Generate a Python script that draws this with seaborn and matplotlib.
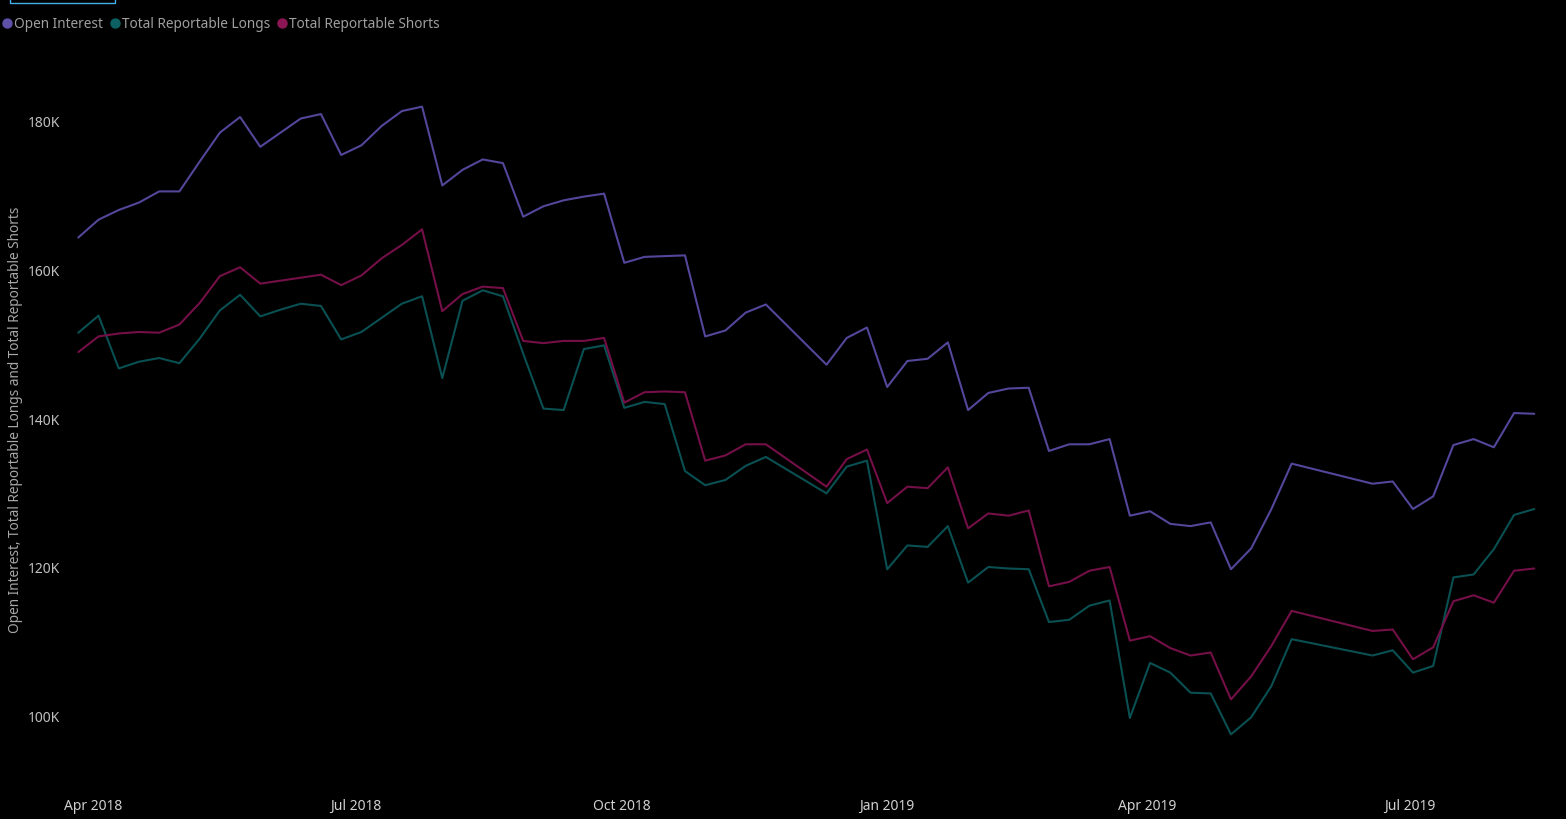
import numpy as np
import pandas as pd
import matplotlib
matplotlib.use("Agg")
import matplotlib.pyplot as plt
import matplotlib.dates as mdates
from matplotlib.lines import Line2D
from matplotlib.patches import Rectangle
from matplotlib.ticker import FuncFormatter, FixedLocator
import seaborn as sns

# ---------------- data (values in thousands) ----------------
all_weeks = pd.date_range("2018-03-27", "2019-08-13", freq="7D")
missing_weeks = pd.to_datetime(["2018-11-27", "2018-12-04",
                                "2019-05-28", "2019-06-04", "2019-06-11"])
dates = all_weeks[~all_weeks.isin(missing_weeks)]

open_interest = [
    164.4, 166.8, 168.1, 169.1, 170.6, 170.6, 174.6, 178.5, 180.6, 176.6,
    178.5, 180.4, 181.0, 175.5, 176.8, 179.4, 181.4, 182.0, 171.4, 173.5,
    174.9, 174.4, 167.2, 168.6, 169.4, 169.9, 170.3, 161.0, 161.8, 161.9,
    162.0, 151.1, 151.9, 154.3, 155.4,
    147.3, 150.9, 152.3, 144.3, 147.8, 148.1, 150.3, 141.2, 143.5, 144.1,
    144.2, 135.7, 136.6, 136.6, 137.3, 127.0, 127.6, 125.9, 125.6, 126.1,
    119.8, 122.6, 127.9, 134.0,
    131.3, 131.6, 127.9, 129.6, 136.5, 137.3, 136.2, 140.8, 140.7,
]
total_reportable_longs = [
    151.6, 153.9, 146.8, 147.7, 148.2, 147.5, 150.8, 154.6, 156.7, 153.8,
    154.7, 155.5, 155.2, 150.7, 151.7, 153.6, 155.5, 156.5, 145.5, 155.9,
    157.3, 156.5, 148.8, 141.4, 141.2, 149.4, 149.9, 141.5, 142.3, 142.0,
    133.0, 131.1, 131.8, 133.7, 134.9,
    130.0, 133.6, 134.4, 119.8, 123.0, 122.8, 125.6, 118.0, 120.1, 119.9,
    119.8, 112.7, 113.0, 114.9, 115.6, 99.8, 107.2, 105.9, 103.2, 103.1,
    97.6, 99.9, 104.1, 110.4,
    108.2, 108.9, 105.9, 106.8, 118.7, 119.1, 122.5, 127.1, 127.9,
]
total_reportable_shorts = [
    149.0, 151.1, 151.5, 151.7, 151.6, 152.7, 155.6, 159.2, 160.4, 158.2,
    158.6, 159.0, 159.4, 158.0, 159.3, 161.6, 163.4, 165.5, 154.5, 156.8,
    157.8, 157.6, 150.5, 150.2, 150.5, 150.5, 150.9, 142.2, 143.6, 143.7,
    143.6, 134.4, 135.1, 136.6, 136.6,
    130.9, 134.6, 135.9, 128.7, 130.9, 130.7, 133.5, 125.3, 127.3, 127.0,
    127.7, 117.5, 118.1, 119.6, 120.1, 110.2, 110.8, 109.2, 108.2, 108.6,
    102.3, 105.4, 109.5, 114.2,
    111.5, 111.7, 107.7, 109.3, 115.5, 116.3, 115.3, 119.6, 119.9,
]

series_names = ["Open Interest", "Total Reportable Longs", "Total Reportable Shorts"]
y_ticks = [100, 120, 140, 160, 180]
y_title = "Open Interest, Total Reportable Longs and Total Reportable Shorts"

# ---------------- styling ----------------
colors = {"Open Interest": "#52479a",
          "Total Reportable Longs": "#0a5052",
          "Total Reportable Shorts": "#740f47"}
legend_colors = ["#5d51a8", "#0d6163", "#8c1655"]

sns.set_style("dark", rc={"axes.facecolor": "black", "figure.facecolor": "black",
                          "axes.grid": False})
plt.rcParams["font.family"] = ["Noto Sans", "DejaVu Sans"]

df = pd.DataFrame({
    "date": np.tile(dates, 3),
    "value": np.concatenate([open_interest, total_reportable_longs, total_reportable_shorts]),
    "series": np.repeat(series_names, len(dates)),
})

W, H = 1566, 819
fig = plt.figure(figsize=(W / 100, H / 100), dpi=100, facecolor="black")
ax_left, ax_right, ax_top, ax_bottom = 70, 1545, 60, 785
ax = fig.add_axes([ax_left / W, 1 - ax_bottom / H, (ax_right - ax_left) / W, (ax_bottom - ax_top) / H])
ax.set_facecolor("black")

sns.lineplot(data=df, x="date", y="value", hue="series", palette=colors,
             hue_order=series_names, linewidth=1.5, legend=False, ax=ax)

# axes limits (pixel-calibrated)
px_per_k = (716.5 - 121.5) / 80.0
ax.set_ylim(100 - (ax_bottom - 716.5) / px_per_k, 180 + (121.5 - ax_top) / px_per_k)
px_per_day = (1534.3 - 78.3) / 504.0
x0 = dates[0] - pd.Timedelta(days=(78.3 - ax_left) / px_per_day)
x1 = dates[-1] + pd.Timedelta(days=(ax_right - 1534.3) / px_per_day)
ax.set_xlim(x0, x1)

ax.yaxis.set_major_locator(FixedLocator(y_ticks))
ax.yaxis.set_major_formatter(FuncFormatter(lambda v, p: f"{v:.0f}K"))
ax.xaxis.set_major_locator(mdates.MonthLocator(bymonth=[1, 4, 7, 10]))
ax.xaxis.set_major_formatter(mdates.DateFormatter("%b %Y"))

ax.tick_params(axis="x", length=0, pad=10, labelsize=10, labelcolor="#d0d0d0")
ax.tick_params(axis="y", length=0, pad=7, labelsize=10, labelcolor="#c0c0c0")
for s in ax.spines.values():
    s.set_visible(False)
ax.set_xlabel("")
ax.set_ylabel("")

fig.text(16 / W, 1 - 419.5 / H, y_title, rotation=90, ha="center", va="center",
         fontsize=9.8, color="#a8a8a8")

handles = [Line2D([], [], marker="o", linestyle="", markersize=6.5,
                  markerfacecolor=c, markeredgecolor=c) for c in legend_colors]
fig.legend(handles, series_names, loc="upper left", bbox_to_anchor=(0.0, 1 - 17 / H),
           ncol=3, frameon=False, handletextpad=0.0, columnspacing=0.4,
           handlelength=1.0, borderaxespad=0.0, borderpad=0.0,
           fontsize=9.8, labelcolor="#a0a0a0")

fig.patches.append(Rectangle((10 / W, 1 - 3 / H), 105 / W, 6 / H, transform=fig.transFigure,
                             facecolor="none", edgecolor="#45aee8", linewidth=1))

fig.savefig("out.png", dpi=100, facecolor="black")
